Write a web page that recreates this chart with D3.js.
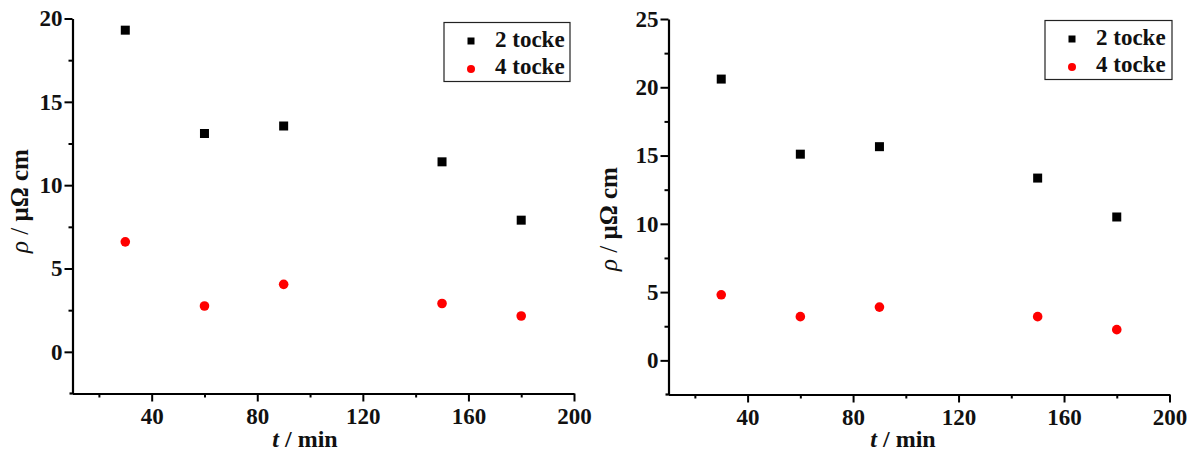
<!DOCTYPE html>
<html><head><meta charset="utf-8">
<script src="https://cdn.jsdelivr.net/npm/d3@7/dist/d3.min.js"></script>
<style>
body{margin:0;background:#fff;}
text{font-family:"Liberation Serif","Times New Roman",serif;}
</style></head>
<body><svg id="c" width="1192" height="452"></svg>
<script>
const times = [30, 60, 90, 150, 180];
const seriesNames = ["2 tocke", "4 tocke"];
const left2 = [19.3, 13.1, 13.55, 11.4, 7.9];
const left4 = [6.6, 2.75, 4.05, 2.9, 2.15];
const right2 = [20.6, 15.1, 15.65, 13.35, 10.5];
const right4 = [4.8, 3.2, 3.9, 3.2, 2.25];
const xMajor = [40, 80, 120, 160, 200];
const xMinor = [20, 60, 100, 140, 180];
const leftYMajor = [0, 5, 10, 15, 20];
const leftYMinor = [2.5, 7.5, 12.5, 17.5];
const rightYMajor = [0, 5, 10, 15, 20, 25];
const rightYMinor = [2.5, 7.5, 12.5, 17.5, 22.5];

const svg = d3.select("#c");

function panel(cfg){
  const g = svg.append("g");
  const x = d3.scaleLinear().domain([10,200]).range(cfg.xr);
  const y = d3.scaleLinear().domain(cfg.yd).range(cfg.yr);
  const x0 = cfg.xr[0], yb = cfg.yr[0];
  // minor ticks
  const ax = d3.axisBottom(x).tickValues(xMinor).tickSize(4).tickFormat("");
  g.append("g").attr("transform",`translate(0,${yb})`).call(ax).call(s=>s.select(".domain").remove());
  const ay = d3.axisLeft(y).tickValues(cfg.yMinor).tickSize(4).tickFormat("");
  g.append("g").attr("transform",`translate(${x0},0)`).call(ay).call(s=>s.select(".domain").remove());
  // major
  const axM = d3.axisBottom(x).tickValues(xMajor).tickSize(8).tickSizeOuter(0).tickPadding(6);
  g.append("g").attr("transform",`translate(0,${yb})`).call(axM);
  const ayM = d3.axisLeft(y).tickValues(cfg.yMajor).tickSize(8).tickSizeOuter(0).tickPadding(2);
  g.append("g").attr("transform",`translate(${x0},0)`).call(ayM);
  g.selectAll(".domain").attr("stroke","#000").attr("stroke-width",2.2);
  g.selectAll(".tick line").attr("stroke","#000").attr("stroke-width",2);
  g.selectAll(".tick text").attr("font-family","Liberation Serif").attr("font-weight","bold")
    .attr("font-size",23).attr("fill","#111");
  g.append("line").attr("x1",x0-3).attr("x2",x0+1).attr("y1",yb).attr("y2",yb).attr("stroke","#000").attr("stroke-width",2.2);

  // data
  g.selectAll("rect.p").data(times.map((t,i)=>[t,cfg.s2[i]])).join("rect")
    .attr("x",d=>x(d[0])-4.5).attr("y",d=>y(d[1])-4.5).attr("width",9).attr("height",9).attr("fill","#000");
  g.selectAll("circle.p").data(times.map((t,i)=>[t,cfg.s4[i]])).join("circle")
    .attr("cx",d=>x(d[0])).attr("cy",d=>y(d[1])).attr("r",4.8).attr("fill","#f00");

  // axis titles
  const xt = g.append("text").attr("x",cfg.xtx).attr("y",447).attr("text-anchor","middle")
    .attr("font-size",24).attr("font-weight","bold").attr("fill","#111");
  xt.append("tspan").attr("font-style","italic").text("t");
  xt.append("tspan").text(" / min");
  const yt = g.append("text").attr("transform",`translate(${cfg.ytx},${cfg.yty}) rotate(-90)`)
    .attr("text-anchor","middle").attr("font-size",25).attr("fill","#111");
  yt.append("tspan").attr("font-style","italic").text("ρ");
  yt.append("tspan").text(" / ");
  yt.append("tspan").attr("font-weight","bold").text("μΩ cm");

  // legend
  const L = cfg.leg;
  g.append("rect").attr("x",L[0]).attr("y",L[1]).attr("width",L[2]).attr("height",L[3])
    .attr("fill","#fff").attr("stroke","#222").attr("stroke-width",1.2);
  const lx = L[0]+27;
  g.append("rect").attr("x",lx-3.5).attr("y",L[1]+18.5-3.5).attr("width",7).attr("height",7).attr("fill","#000");
  g.append("circle").attr("cx",lx).attr("cy",L[1]+46.5).attr("r",4).attr("fill","#f00");
  seriesNames.forEach((n,i)=>{
    g.append("text").attr("x",L[0]+51).attr("y",L[1]+24+i*27.5).attr("font-size",23)
      .attr("font-weight","bold").attr("fill","#111").text(n);
  });
}

panel({xr:[72.5,574], yd:[-2.5,20], yr:[393.5,18.5], yMajor:leftYMajor, yMinor:leftYMinor,
  s2:left2, s4:left4, xtx:305, ytx:28, yty:201, leg:[444,22.5,126,59]});
panel({xr:[668.5,1169.5], yd:[-2.5,25], yr:[394.5,19], yMajor:rightYMajor, yMinor:rightYMinor,
  s2:right2, s4:right4, xtx:903, ytx:617, yty:219, leg:[1045,20.5,127,59]});
</script></body></html>
